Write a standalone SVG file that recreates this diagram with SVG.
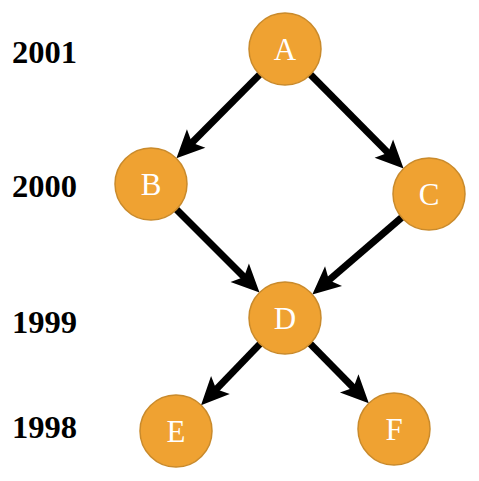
<svg xmlns="http://www.w3.org/2000/svg" width="479" height="481" viewBox="0 0 479 481">
<style>
.node circle{fill:#EFA232;stroke:#C98A2B;stroke-width:1.5}
.node text{fill:#ffffff;font-family:"Liberation Serif","DejaVu Serif",serif;font-size:31px;text-anchor:middle}
.year{fill:#000;font-family:"Liberation Serif","DejaVu Serif",serif;font-size:31px;font-weight:bold}
#edges line{stroke:#000;stroke-width:7;marker-end:url(#ah)}
</style>
<defs>
<marker id="ah" markerUnits="userSpaceOnUse" markerWidth="28" markerHeight="26" refX="11" refY="13" orient="auto" overflow="visible">
<path d="M0,0 L28,13 L0,26 L6,13 z" fill="#000"/>
</marker>
</defs>
<rect width="479" height="481" fill="#fff"/>
<g id="years">
<text class="year" x="12" y="63" textLength="65" lengthAdjust="spacingAndGlyphs">2001</text>
<text class="year" x="12" y="197" textLength="65" lengthAdjust="spacingAndGlyphs">2000</text>
<text class="year" x="12" y="333" textLength="65" lengthAdjust="spacingAndGlyphs">1999</text>
<text class="year" x="12" y="438" textLength="65" lengthAdjust="spacingAndGlyphs">1998</text>
</g>
<g id="edges">
<line x1="259.6" y1="74.6" x2="188.4" y2="146.3"/>
<line x1="310.4" y1="74.5" x2="391.6" y2="156.4"/>
<line x1="176.5" y1="209.5" x2="247.5" y2="280.5"/>
<line x1="401.7" y1="217.5" x2="325.2" y2="283.4"/>
<line x1="260" y1="343.9" x2="212.8" y2="392.9"/>
<line x1="310.2" y1="343.7" x2="356.9" y2="391.2"/>
</g>
<g id="A" class="node"><circle cx="285" cy="49" r="36"/><text x="285" y="60">A</text></g>
<g id="B" class="node"><circle cx="151" cy="184" r="36"/><text x="151" y="195">B</text></g>
<g id="C" class="node"><circle cx="429" cy="194" r="36"/><text x="429" y="205">C</text></g>
<g id="D" class="node"><circle cx="285" cy="318" r="36"/><text x="285" y="329">D</text></g>
<g id="E" class="node"><circle cx="176" cy="431" r="36"/><text x="176" y="442">E</text></g>
<g id="F" class="node"><circle cx="394" cy="429" r="36"/><text x="394" y="440">F</text></g>
</svg>
